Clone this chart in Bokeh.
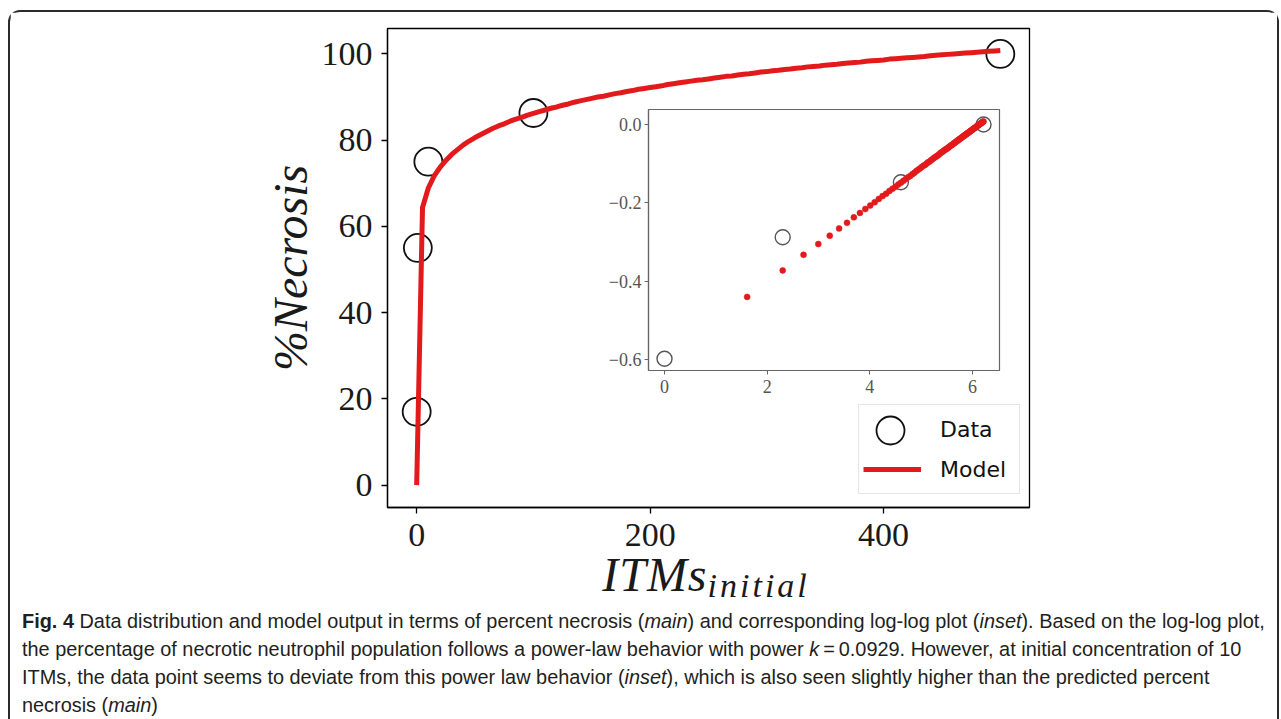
import numpy as np
from bokeh.plotting import figure
from bokeh.models import (ColumnDataSource, Range1d, FixedTicker, Legend, LegendItem,
                          Div, Spacer, CustomJSTickFormatter)
from bokeh.layouts import column, row
from bokeh.embed import file_html
from bokeh.resources import INLINE

# ---------------- data ----------------
itms = [0, 1, 10, 100, 500]
necrosis = [17, 55, 75, 86.3, 100]

model_itms = list(range(0, 505, 5))
model_necrosis = [0.0,
    64.4, 68.9, 71.7, 73.7, 75.3, 76.7, 77.8, 78.9, 79.8, 80.6,
    81.3, 82.0, 82.7, 83.3, 83.8, 84.4, 84.9, 85.3, 85.8, 86.2,
    86.6, 87.0, 87.4, 87.7, 88.1, 88.4, 88.8, 89.1, 89.4, 89.7,
    90.0, 90.2, 90.5, 90.8, 91.0, 91.3, 91.5, 91.8, 92.0, 92.2,
    92.4, 92.6, 92.9, 93.1, 93.3, 93.5, 93.7, 93.9, 94.0, 94.2,
    94.4, 94.6, 94.8, 94.9, 95.1, 95.3, 95.4, 95.6, 95.8, 95.9,
    96.1, 96.2, 96.4, 96.5, 96.7, 96.8, 97.0, 97.1, 97.2, 97.4,
    97.5, 97.6, 97.8, 97.9, 98.0, 98.1, 98.3, 98.4, 98.5, 98.6,
    98.8, 98.9, 99.0, 99.1, 99.2, 99.3, 99.4, 99.6, 99.7, 99.8,
    99.9, 100.0, 100.1, 100.2, 100.3, 100.4, 100.5, 100.6, 100.7, 100.8]

x_ticks = [0, 200, 400]
y_ticks = [0, 20, 40, 60, 80, 100]
inset_x_ticks = [0, 2, 4, 6]
inset_y_ticks = [-0.6, -0.4, -0.2, 0.0]

y_label = "%Necrosis"
x_label_main = "ITMs"
x_label_sub = "initial"
legend_labels = ["Data", "Model"]

caption_lines = [
    "<b>Fig. 4</b> Data distribution and model output in terms of percent necrosis (<i>main</i>) and corresponding log-log plot (<i>inset</i>). Based on the log-log plot,",
    "the percentage of necrotic neutrophil population follows a power-law behavior with power <i>k</i>&#8201;=&#8201;0.0929. However, at initial concentration of 10",
    "ITMs, the data point seems to deviate from this power law behavior (<i>inset</i>), which is also seen slightly higher than the predicted percent",
    "necrosis (<i>main</i>)",
]

RED = "#e31a1c"

# ---------------- sources ----------------
data_src = ColumnDataSource(dict(x=itms, y=necrosis))
model_src = ColumnDataSource(dict(x=model_itms, y=model_necrosis))

it = np.array(itms, dtype=float)
ne = np.array(necrosis, dtype=float)
mi = np.array(model_itms, dtype=float)
mn = np.array(model_necrosis, dtype=float)
pos = it > 0
mpos = mi > 0
inset_data_src = ColumnDataSource(dict(x=np.log(it[pos]), y=np.log(ne[pos] / 100.0)))
inset_model_src = ColumnDataSource(dict(x=np.log(mi[mpos]), y=np.log(mn[mpos] / 100.0)))

# ---------------- main figure ----------------
p = figure(width=1267, height=586, output_backend="svg", toolbar_location=None,
           x_range=Range1d(-25, 525), y_range=Range1d(-5.2, 105.9),
           min_border_left=377, min_border_right=248, min_border_top=16, min_border_bottom=91)
p.xgrid.visible = False
p.ygrid.visible = False
p.outline_line_color = "black"
p.outline_line_width = 1.3
p.background_fill_color = "white"
p.border_fill_color = "white"

for ax in (p.xaxis[0], p.yaxis[0]):
    ax.axis_line_color = "black"
    ax.axis_line_width = 1.3
    ax.major_tick_line_color = "black"
    ax.major_tick_line_width = 1.3
    ax.major_tick_out = 6
    ax.major_tick_in = 0
    ax.minor_tick_line_color = None
    ax.major_label_text_font = "Liberation Serif"
    ax.major_label_text_font_size = "34px"
    ax.major_label_text_color = "#1a1a1a"
p.xaxis.ticker = FixedTicker(ticks=x_ticks)
p.yaxis.ticker = FixedTicker(ticks=y_ticks)
p.xaxis.major_label_standoff = 10
p.yaxis.major_label_standoff = 9
p.yaxis.axis_label = y_label
p.yaxis.axis_label_text_font = "Liberation Serif"
p.yaxis.axis_label_text_font_style = "italic"
p.yaxis.axis_label_text_font_size = "48px"
p.yaxis.axis_label_text_color = "#1a1a1a"
p.yaxis.axis_label_standoff = 2

circ_r = p.scatter("x", "y", source=data_src, marker="circle", size=28,
                   fill_color=None, line_color="#111111", line_width=1.8)
ghost_r = p.scatter("x", "y", source=data_src, marker="circle", size=28,
                    fill_alpha=0, line_alpha=0)
model_r = p.line("x", "y", source=model_src, line_color=RED, line_width=5,
                 line_join="round", line_cap="butt")

# legend box (text + line)
legB = Legend(items=[LegendItem(label=legend_labels[0], renderers=[ghost_r]),
                     LegendItem(label=legend_labels[1], renderers=[model_r])],
              location=(471, 13), orientation="vertical",
              glyph_width=58, glyph_height=40, label_standoff=19, label_width=75,
              padding=4, spacing=0, margin=0,
              label_text_font="DejaVu Sans", label_text_font_size="22px",
              label_text_color="#111111",
              border_line_color="#cccccc", border_line_width=1.2,
              background_fill_color="white", background_fill_alpha=0.85)
p.add_layout(legB)
# large circle symbol of the legend
legA = Legend(items=[LegendItem(label=" ", renderers=[circ_r])],
              location=(468, 42), orientation="vertical",
              glyph_width=70, glyph_height=70, label_standoff=0, label_width=0,
              padding=0, spacing=0, margin=0, label_text_font_size="1px",
              border_line_alpha=0, background_fill_alpha=0)
p.add_layout(legA)

# ---------------- inset figure ----------------
ins = figure(frame_width=351, frame_height=261, output_backend="svg", toolbar_location=None,
             x_range=Range1d(-0.312, 6.526), y_range=Range1d(-0.628, 0.0383),
             min_border_left=52, min_border_right=4, min_border_top=9, min_border_bottom=26)
ins.xgrid.visible = False
ins.ygrid.visible = False
ins.border_fill_color = None
ins.background_fill_color = "white"
ins.outline_line_color = "#666666"
ins.outline_line_width = 1.2
for ax in (ins.xaxis[0], ins.yaxis[0]):
    ax.axis_line_color = "#666666"
    ax.axis_line_width = 1.2
    ax.major_tick_line_color = "#666666"
    ax.major_tick_out = 4
    ax.major_tick_in = 0
    ax.minor_tick_line_color = None
    ax.major_label_text_font = "Liberation Serif"
    ax.major_label_text_font_size = "18px"
    ax.major_label_text_color = "#555555"
    ax.major_label_standoff = 3
ins.xaxis.major_label_standoff = 5
ins.xaxis.ticker = FixedTicker(ticks=inset_x_ticks)
ins.yaxis.ticker = FixedTicker(ticks=inset_y_ticks)
ins.yaxis.formatter = CustomJSTickFormatter(
    code="return (tick < -1e-9 ? '\u2212' : '') + Math.abs(tick).toFixed(1);")

ins.scatter("x", "y", source=inset_data_src, marker="circle", size=15,
            fill_color=None, line_color="#555555", line_width=1.4)
ins.scatter("x", "y", source=inset_model_src, marker="circle", size=6,
            fill_color=RED, line_color=RED, line_width=0.5)

inset_row = row(Spacer(width=586, height=296), ins, margin=(-498, 0, 202, 0))

# ---------------- x-axis label (with subscript) ----------------
xlab = Div(text="<span style='letter-spacing:1px'>" + x_label_main + "</span>"
           + "<span style='font-size:34px; position:relative; top:6px; line-height:1; letter-spacing:3px'>"
           + x_label_sub + "</span>",
           width=400, height=50, margin=0,
           styles={"font-family": "'Liberation Serif', serif", "font-style": "italic",
                   "font-size": "48px", "line-height": "50px", "text-align": "center",
                   "color": "#1a1a1a", "white-space": "nowrap"})
xlab_row = row(Spacer(width=496, height=50), xlab, margin=(-48, 0, 0, 0))

# ---------------- caption ----------------
cap = Div(text="<br>".join(caption_lines), width=1243, height=112, margin=(7, 0, 0, 12),
          styles={"font-family": "'Liberation Sans', sans-serif", "font-size": "19.9px",
                  "line-height": "28px", "color": "#231f20", "white-space": "nowrap"})

root = column(p, inset_row, xlab_row, cap, margin=(10, 0, 0, 8),
              styles={"border-top": "2px solid #2b2b2b", "border-left": "2px solid #2b2b2b",
                      "border-right": "2px solid #2b2b2b",
                      "border-top-left-radius": "12px", "border-top-right-radius": "12px"})

open("out.html", "w").write(file_html(root, INLINE))
